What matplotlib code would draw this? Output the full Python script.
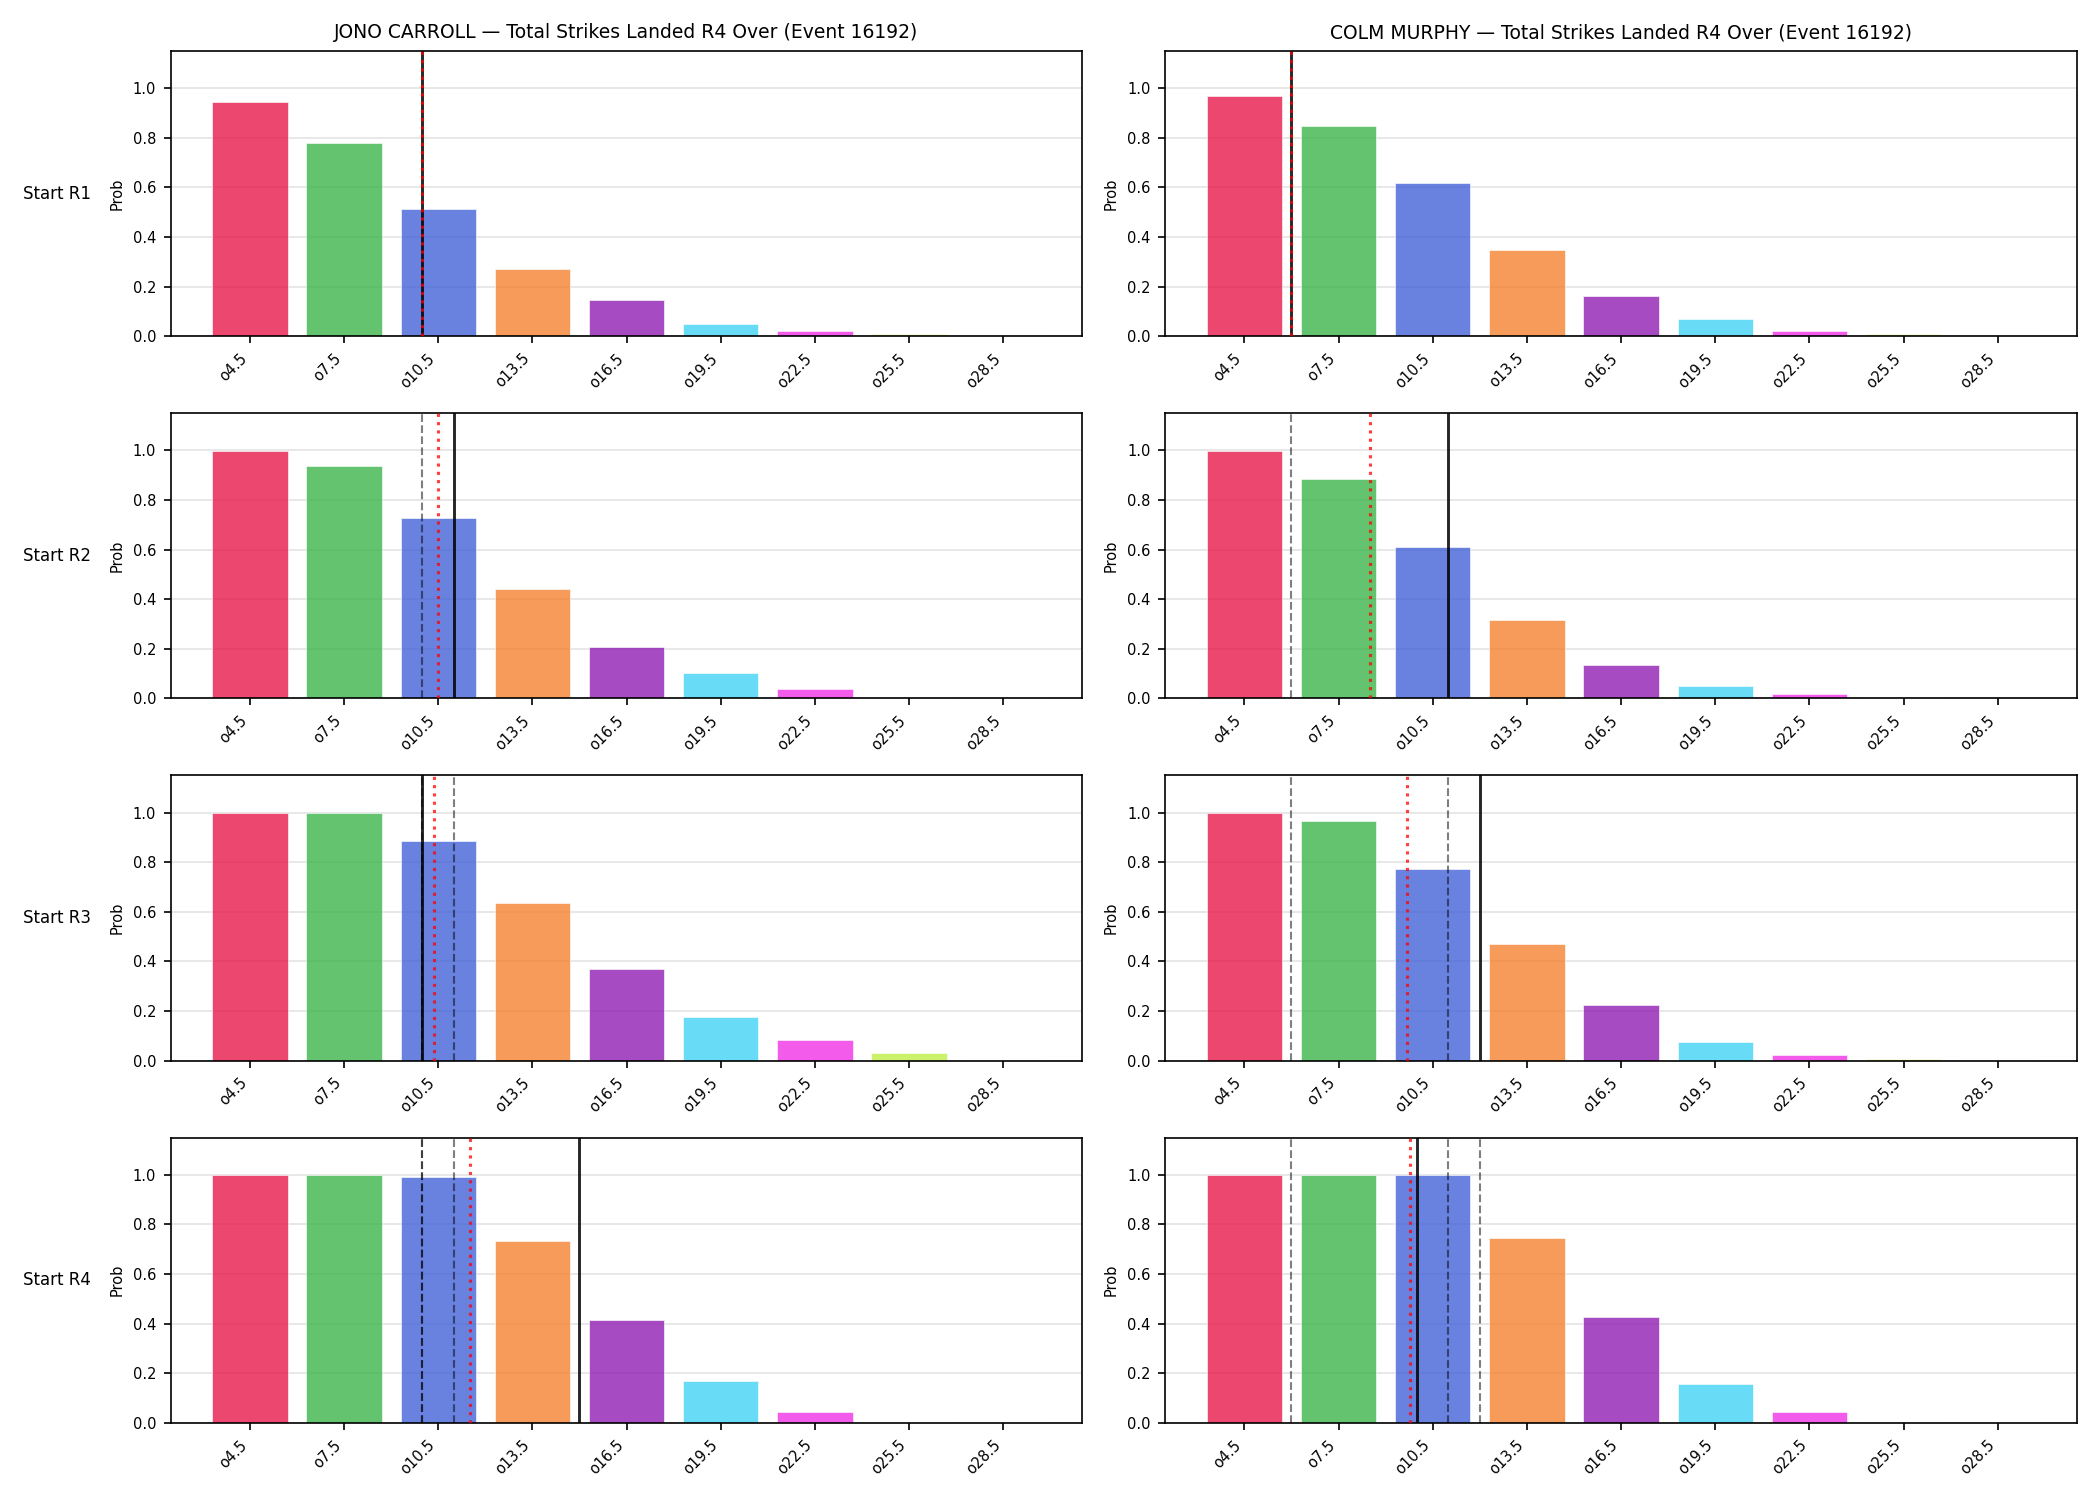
import numpy as np
import matplotlib
matplotlib.use("Agg")
import matplotlib.pyplot as plt

# ---------------- data ----------------
thresholds = [4.5, 7.5, 10.5, 13.5, 16.5, 19.5, 22.5, 25.5, 28.5]
tick_labels = ["o4.5", "o7.5", "o10.5", "o13.5", "o16.5", "o19.5", "o22.5", "o25.5", "o28.5"]
fighters = ["JONO CARROLL", "COLM MURPHY"]
row_labels = ["Start R1", "Start R2", "Start R3", "Start R4"]
market = "Total Strikes Landed R4 Over (Event 16192)"

carroll_r1 = [0.945, 0.780, 0.514, 0.272, 0.147, 0.049, 0.021, 0.009, 0.006]
carroll_r2 = [0.999, 0.938, 0.728, 0.441, 0.207, 0.104, 0.036, 0.006, 0.004]
carroll_r3 = [0.999, 0.999, 0.884, 0.634, 0.371, 0.177, 0.082, 0.029, 0.004]
carroll_r4 = [0.999, 0.999, 0.991, 0.732, 0.413, 0.168, 0.042, 0.005, 0.003]

murphy_r1 = [0.969, 0.849, 0.619, 0.348, 0.163, 0.069, 0.021, 0.009, 0.006]
murphy_r2 = [0.999, 0.886, 0.611, 0.317, 0.134, 0.049, 0.017, 0.005, 0.003]
murphy_r3 = [0.999, 0.968, 0.771, 0.469, 0.223, 0.074, 0.024, 0.006, 0.003]
murphy_r4 = [0.999, 0.999, 0.999, 0.745, 0.425, 0.158, 0.042, 0.004, 0.003]

# solid black line (current value), dashed (earlier values), dotted red (expected)
carroll_current = [10, 11, 10, 15]
carroll_previous = [[], [10], [10, 11], [10, 11, 10]]
carroll_expected = [10.0, 10.5, 10.37, 11.5]

murphy_current = [6, 11, 12, 10]
murphy_previous = [[], [6], [6, 11], [6, 11, 12]]
murphy_expected = [6.0, 8.5, 9.67, 9.77]

bar_colors = ["#e6194b", "#3cb44b", "#4363d8", "#f58231", "#911eb4",
              "#42d4f4", "#f032e6", "#bfef45", "#fabed4"]

probs = [[carroll_r1, carroll_r2, carroll_r3, carroll_r4],
         [murphy_r1, murphy_r2, murphy_r3, murphy_r4]]
currents = [carroll_current, murphy_current]
previouses = [carroll_previous, murphy_previous]
expecteds = [carroll_expected, murphy_expected]

# ---------------- plot ----------------
fig, axes = plt.subplots(4, 2, figsize=(14, 10), dpi=150)
fig.subplots_adjust(left=0.0813, right=0.989, bottom=0.0515, top=0.966,
                    wspace=0.091, hspace=0.27)

idx = np.arange(len(thresholds))


def to_x(v):
    return np.interp(v, thresholds, idx)


for c in range(2):
    for r in range(4):
        ax = axes[r, c]
        ax.bar(idx, probs[c][r], color=bar_colors, alpha=0.8,
               edgecolor="white", linewidth=0.35, width=0.8, zorder=2)
        ax.set_ylim(0, 1.15)
        ax.set_xticks(idx)
        ax.set_xticklabels(tick_labels, rotation=45, ha="right", fontsize=7)
        ax.tick_params(axis="y", labelsize=7)
        ax.set_ylabel("Prob", fontsize=7)
        ax.grid(axis="y", color="#dddddd", alpha=0.8, linewidth=0.8, zorder=0)
        ax.set_axisbelow(True)
        for pv in previouses[c][r]:
            ax.axvline(to_x(pv), color="k", linestyle="--", linewidth=1.0,
                       alpha=0.5, zorder=3)
        ax.axvline(to_x(currents[c][r]), color="k", linestyle="-",
                   linewidth=1.4, alpha=0.85, zorder=4)
        ax.axvline(to_x(expecteds[c][r]), color="red", linestyle=":",
                   linewidth=1.5, alpha=0.75, zorder=5)
        if r == 0:
            ax.set_title(f"{fighters[c]} \u2014 {market}", fontsize=9)
        if c == 0:
            ax.text(-0.125, 0.5, row_labels[r], transform=ax.transAxes,
                    ha="center", va="center", fontsize=8)

fig.savefig("out.png", dpi=150)
